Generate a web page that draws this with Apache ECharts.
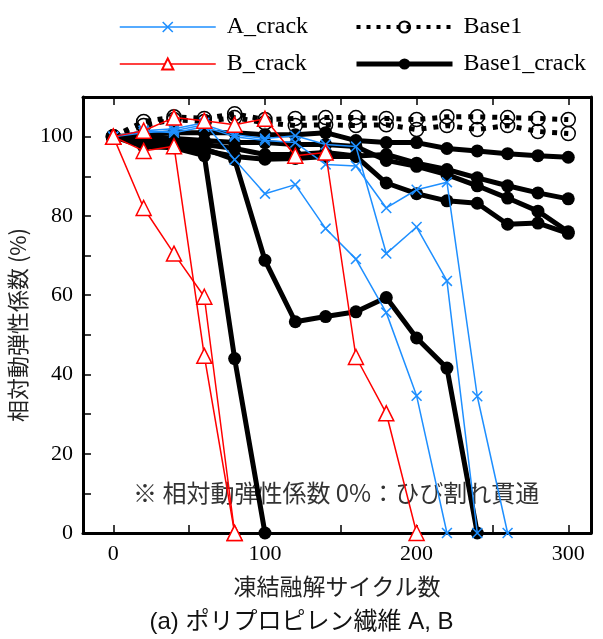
<!DOCTYPE html>
<html>

<head>
    <meta charset="utf-8">
    <script src="https://cdn.jsdelivr.net/npm/echarts@6/dist/echarts.min.js"></script>
    <style>
        html, body { margin: 0; padding: 0; background: #fff; }
        #main { width: 603px; height: 639px; }
    </style>
</head>

<body>
    <div id="main"></div>
    <script type="text/javascript">

        // 凍結融解サイクル数
        var cycles = [0, 20, 40, 60, 80, 100, 120, 140, 160, 180, 200, 220, 240, 260, 280, 300];
        var xTicks = [0, 50, 100, 150, 200, 250, 300];
        var xLabels = [0, 100, 200, 300];
        var yLabels = [0, 20, 40, 60, 80, 100];

        // A_crack
        var aCrack1 = [100, 101.5, 102, 103.5, 94.2, 85.6, 87.9, 76.8, 69.1, 55.6, 34.6, 0];
        var aCrack2 = [100, 101, 101.5, 103, 100.5, 99.5, 100.2, 98, 97.5, 70.5, 77.2, 63.6, 0];
        var aCrack3 = [100, 101.5, 101, 102.5, 100, 99, 98.5, 93, 92.6, 82, 86.6, 88.5, 34.5, 0];

        // B_crack
        var bCrack1 = [100, 82, 70.5, 59.6, 0];
        var bCrack2 = [100, 96.4, 97.6, 44.7, 0];
        var bCrack3 = [100, 101.5, 104.8, 104, 103, 104.5, 95.2, 96, 44.4, 30.2, 0];

        // Base1
        var base1a = [100, 103.8, 105, 104.6, 105.8, 104.3, 104.6, 104.8, 104.8, 104.6, 104.3, 105, 105, 104.8, 104.6, 104.3];
        var base1b = [100, 102.8, 104.3, 103.8, 104.8, 103.5, 102.8, 103, 102.8, 103, 101.8, 102.8, 101.8, 102.8, 101.3, 100.8];

        // Base1_crack
        var base1c1 = [100, 97.5, 97.2, 95.2, 44, 0];
        var base1c2 = [100, 99, 98, 97, 94.2, 68.8, 53.3, 54.6, 55.8, 59.4, 49.2, 41.6, 0];
        var base1c3 = [100, 100.5, 101, 101, 101, 100.5, 100.5, 101, 99, 98.5, 98.5, 97, 96.4, 95.7, 95.2, 94.8];
        var base1c4 = [100, 99, 98.5, 98, 97, 95.5, 95.5, 96, 95.1, 95.5, 93.3, 91.7, 89.6, 87.6, 85.8, 84.3];
        var base1c5 = [100, 98.5, 97.5, 96.5, 95, 94.3, 94.5, 95, 95, 88.3, 85.6, 83.8, 83.2, 77.9, 78.2, 75.6];
        var base1c6 = [100, 100, 99.5, 99, 98.5, 98.5, 98, 98, 97.5, 94, 92.5, 90.4, 87.6, 84.5, 81.2, 76];

        var serif = 'Liberation Serif, Times New Roman, serif';
        var jp = 'Noto Sans CJK JP, sans-serif';
        var crossPath = 'path://M0,1L1,0L10,9L9,10ZM9,0L10,1L1,10L0,9Z';
        var blue = '#1e8fff';
        var red = '#ff0000';

        function pairs(vals) {
            return vals.map(function (v, i) { return [cycles[i], v]; });
        }

        function aSeries(vals) {
            return {
                name: 'A_crack', type: 'line', data: pairs(vals),
                symbol: crossPath, symbolSize: 11,
                lineStyle: { color: blue, width: 1.5 },
                itemStyle: { color: blue }, z: 4
            };
        }
        function bSeries(vals) {
            return {
                name: 'B_crack', type: 'line', data: pairs(vals),
                symbol: 'triangle', symbolSize: 15,
                lineStyle: { color: red, width: 1.5 },
                itemStyle: { color: '#fff', borderColor: red, borderWidth: 1.5 }, z: 5
            };
        }
        function baseSeries(vals) {
            return {
                name: 'Base1', type: 'line', data: pairs(vals),
                symbol: 'circle', symbolSize: 14,
                lineStyle: { color: '#000', width: 5, type: [5, 7] },
                itemStyle: { color: 'rgba(255,255,255,0)', borderColor: '#000', borderWidth: 1.5 }, z: 3
            };
        }
        function crackSeries(vals) {
            return {
                name: 'Base1_crack', type: 'line', data: pairs(vals),
                symbol: 'circle', symbolSize: 13,
                lineStyle: { color: '#000', width: 5 },
                itemStyle: { color: '#000' }, z: 2
            };
        }

        var series = [
            crackSeries(base1c1), crackSeries(base1c2), crackSeries(base1c3),
            crackSeries(base1c4), crackSeries(base1c5), crackSeries(base1c6),
            baseSeries(base1a), baseSeries(base1b),
            aSeries(aCrack1), aSeries(aCrack2), aSeries(aCrack3),
            bSeries(bCrack1), bSeries(bCrack2), bSeries(bCrack3)
        ];
        series.forEach(function (s) { s.animation = false; s.clip = false; });

        var legendText = { fontFamily: serif, fontSize: 24, color: '#000', padding: [0, 0, 0, 6] };

        var option = {
            backgroundColor: '#fff',
            animation: false,
            grid: { left: 83, right: 12, top: 97, bottom: 106, outerBoundsMode: 'none', containLabel: false },
            legend: [
                {
                    data: [
                        { name: 'A_crack', lineStyle: { width: 1.5 } },
                        { name: 'B_crack', lineStyle: { width: 1.5 } }
                    ],
                    orient: 'vertical', left: 114, top: 10,
                    itemWidth: 96, itemHeight: 14, itemGap: 13, textStyle: legendText, selectedMode: false
                },
                {
                    data: [
                        { name: 'Base1', lineStyle: { width: 4, type: [4, 6] } },
                        { name: 'Base1_crack', lineStyle: { width: 5 } }
                    ],
                    orient: 'vertical', left: 349, top: 10,
                    itemWidth: 96, itemHeight: 14, itemGap: 13, textStyle: legendText, selectedMode: false
                }
            ],
            xAxis: [
                {
                    type: 'value', min: -20, max: 315,
                    name: '凍結融解サイクル数', nameLocation: 'middle', nameGap: 42,
                    nameTextStyle: { fontFamily: jp, fontSize: 23, color: '#222' },
                    axisLine: { onZero: false, lineStyle: { color: '#000', width: 3 } },
                    axisTick: { inside: true, length: 8, customValues: xTicks, lineStyle: { color: '#000', width: 1.5 } },
                    axisLabel: { customValues: xLabels, fontFamily: serif, fontSize: 22, color: '#000', margin: 10 },
                    splitLine: { show: false }
                },
                {
                    type: 'value', min: -20, max: 315, position: 'top',
                    axisLine: { onZero: false, lineStyle: { color: '#000', width: 3 } },
                    axisTick: { inside: true, length: 8, customValues: xTicks, lineStyle: { color: '#000', width: 1.5 } },
                    axisLabel: { show: false },
                    splitLine: { show: false }
                }
            ],
            yAxis: [
                {
                    type: 'value', min: 0, max: 110, interval: 10,
                    name: '相対動弾性係数 (%)', nameLocation: 'middle', nameGap: 50,
                    nameTextStyle: { fontFamily: jp, fontSize: 22, color: '#222', padding: [0, 20, 0, 0] },
                    axisLine: { show: true, onZero: false, lineStyle: { color: '#000', width: 3 } },
                    axisTick: { show: true, inside: true, length: 8, lineStyle: { color: '#000', width: 1.5 } },
                    axisLabel: { customValues: yLabels, fontFamily: serif, fontSize: 22, color: '#000', margin: 10 },
                    splitLine: { show: false }
                },
                {
                    type: 'value', min: 0, max: 110, position: 'right',
                    axisLine: { show: true, onZero: false, lineStyle: { color: '#000', width: 3 } },
                    axisTick: { show: false }, axisLabel: { show: false },
                    splitLine: { show: false }
                }
            ],
            graphic: [
                {
                    type: 'text', left: 133, top: 481,
                    style: { text: '※ 相対動弾性係数 0%：ひび割れ貫通', font: '24px "Noto Sans CJK JP"', fill: '#333' }
                },
                {
                    type: 'text', left: 'center', top: 610,
                    style: { text: '(a) ポリプロピレン繊維 A, B', font: '24px "Liberation Sans", "Noto Sans CJK JP"', fill: '#111' }
                }
            ],
            series: series
        };

        var myChart = echarts.init(document.getElementById('main'));
        myChart.setOption(option);
    </script>
</body>

</html>
